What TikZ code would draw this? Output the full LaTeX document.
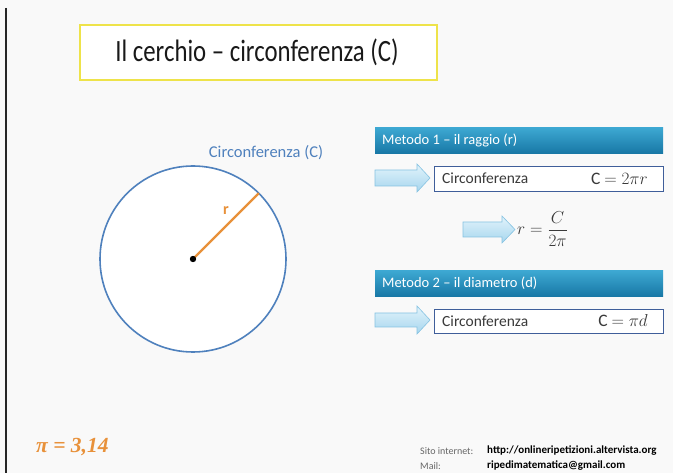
\documentclass[tikz,border=0pt]{standalone}
\usepackage{fontspec}
\setmainfont{Carlito}
\newfontfamily\titlefont[FakeStretch=0.8,Ligatures=TeX]{Carlito}
\newfontfamily\pifont{Liberation Serif}
\usepackage{amsmath}
\usetikzlibrary{shadings}
\definecolor{bgc}{HTML}{F9F9F9}
\definecolor{circblue}{HTML}{4F81BD}
\definecolor{radorange}{HTML}{E8913A}
\definecolor{bartop}{HTML}{3EA9D3}
\definecolor{barbot}{HTML}{1878A6}
\definecolor{boxblue}{HTML}{3F5E9A}
\definecolor{arrtop}{HTML}{E2F3FB}
\definecolor{arrbot}{HTML}{A6D6EE}
\definecolor{arrline}{HTML}{86C3E2}
\definecolor{titleyellow}{HTML}{EEE34A}
\definecolor{txtgray}{HTML}{3A3A3A}
\tikzset{
  x=1pt,y=-1pt,
  bar/.style={top color=bartop,bottom color=barbot,draw=none,minimum height=26pt,minimum width=288pt,anchor=north west,inner sep=0pt},
  bartext/.style={text=white,font=\fontsize{14.5}{16}\selectfont,anchor=west,inner sep=0pt},
  fbox/.style={draw=boxblue,line width=1.4pt,fill=white,minimum height=25pt,minimum width=229pt,anchor=north west,inner sep=0pt},
  blockarrow/.style={top color=arrtop,bottom color=arrbot,draw=arrline,line width=0.6pt},
  boxtext/.style={text=txtgray,font=\fontsize{15.5}{17}\selectfont,inner sep=0pt},
  mathtext/.style={text=txtgray,font=\fontsize{17.5}{19}\selectfont,inner sep=0pt},
}
\begin{document}
\begin{tikzpicture}
\useasboundingbox (0,0) rectangle (673,473);
\fill[bgc] (0,0) rectangle (673,473);
\draw[line width=2pt,black!85] (6,8) -- (6,473);
% title
\node[draw=titleyellow,line width=2.2pt,fill=white,minimum width=357pt,minimum height=55pt,inner sep=0pt] (title) at (258.5,52.5) {};
\node[font=\titlefont\fontsize{31}{34}\selectfont,text=black!90] (titletext) at (257,52) {Il cerchio – circonferenza (C)};
% circle
\coordinate (O) at (193,259);
\draw[circblue,line width=1.6pt,fill=white] (O) circle[radius=93];
\draw[radorange,line width=2.2pt] (O) -- (258.8,193.2) coordinate (P);
\fill[black] (O) circle[radius=3.2];
\node[text=radorange,font=\bfseries\fontsize{16}{18}\selectfont,inner sep=0pt] (rlab) at (226,211) {r};
\node[text=circblue,font=\fontsize{16.5}{18}\selectfont,inner sep=0pt] (clab) at (266,153) {Circonferenza (C)};
% metodo 1
\node[bar] (bar1) at (375,127) {};
\node[bartext] (bar1t) at (382,140) {Metodo 1 – il raggio (r)};
\draw[blockarrow] (375,170) -- (417,170) -- (417,164) -- (430,178) -- (417,192) -- (417,186) -- (375,186) -- cycle;
\node[fbox] (box1) at (434,166) {};
\node[boxtext,anchor=west] (box1a) at (442,178.5) {Circonferenza};
\node[mathtext,anchor=east] (box1b) at (648,178.5) {C $=2\pi r$};
\draw[blockarrow] (463,222) -- (502,222) -- (502,216) -- (515,229.5) -- (502,243) -- (502,237) -- (463,237) -- cycle;
\node[mathtext,anchor=west] (rform) at (517,229) {$r=\dfrac{C}{2\pi}$};
% metodo 2
\node[bar] (bar2) at (375,270) {};
\node[bartext] (bar2t) at (382,283.5) {Metodo 2 – il diametro (d)};
\draw[blockarrow] (375,313) -- (417,313) -- (417,306) -- (430,320) -- (417,334) -- (417,327) -- (375,327) -- cycle;
\node[fbox,minimum height=24pt] (box2) at (434,309) {};
\node[boxtext,anchor=west] (box2a) at (442,321) {Circonferenza};
\node[mathtext,anchor=east] (box2b) at (648,321) {C $=\pi d$};
% bottom
\node[text=radorange,font=\pifont\bfseries\itshape\fontsize{21.5}{23}\selectfont,anchor=west,inner sep=0pt] (pi) at (36,447) {π = 3,14};
\node[text=black!60,font=\fontsize{10}{11}\selectfont,anchor=west,inner sep=0pt] (sito) at (420,451) {Sito internet:};
\node[text=black,font=\bfseries\fontsize{11}{12}\selectfont,anchor=west,inner sep=0pt] (url) at (487,451) {http://onlineripetizioni.altervista.org};
\node[text=black!60,font=\fontsize{10}{11}\selectfont,anchor=west,inner sep=0pt] (mail) at (420,466) {Mail:};
\node[text=black,font=\bfseries\fontsize{11}{12}\selectfont,anchor=west,inner sep=0pt] (mailad) at (487,466) {ripedimatematica@gmail.com};
\end{tikzpicture}
\end{document}
